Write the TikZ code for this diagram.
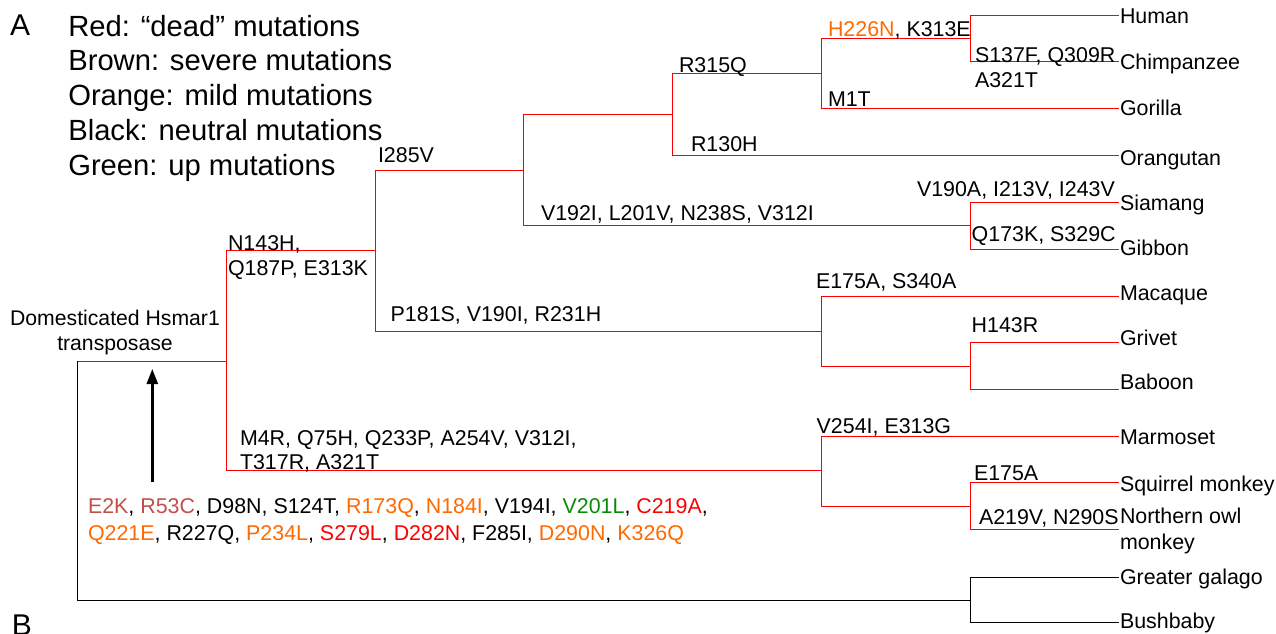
\documentclass[tikz,border=0pt]{standalone}
\usepackage{fontspec}
\setmainfont{Liberation Sans}
\usetikzlibrary{arrows.meta}

\definecolor{branchred}{HTML}{FF0000}
\definecolor{mutred}{HTML}{FF0000}
\definecolor{mutbrown}{HTML}{C0504D}
\definecolor{mutorange}{HTML}{FF6A00}
\definecolor{mutgreen}{HTML}{0A8A0A}

% mutation colour classes
\newcommand\mutDead[1]{\textcolor{mutred}{#1}}
\newcommand\mutSevere[1]{\textcolor{mutbrown}{#1}}
\newcommand\mutMild[1]{\textcolor{mutorange}{#1}}
\newcommand\mutUp[1]{\textcolor{mutgreen}{#1}}

\begin{document}
\begin{tikzpicture}[x=1pt,y=-1pt,
  txt/.style={anchor=base west, inner sep=0pt, outer sep=0pt, font=\fontsize{21.4}{25}\selectfont},
  ctxt/.style={anchor=base, inner sep=0pt, outer sep=0pt, font=\fontsize{21.2}{25}\selectfont},
  legend/.style={anchor=base west, inner sep=0pt, outer sep=0pt, font=\fontsize{29.2}{35}\selectfont},
  panel/.style={anchor=base west, inner sep=0pt, outer sep=0pt, font=\fontsize{30}{36}\selectfont},
  rbranch/.style={draw=branchred, line width=1pt},
  kbranch/.style={draw=black, line width=1pt},
  pointer/.style={draw=black, line width=2.4pt, -{Triangle[length=15pt,width=11pt]}}
]
\useasboundingbox (0,0) rectangle (1276,633);

% panel letters
\node[panel] (panA) at (10,35) {A};
\node[panel] (panB) at (12,635) {B};

% legend
\node[legend] (lg1) at (68.3,36)    {Red: “dead” mutations};
\node[legend] (lg2) at (68.3,70.8)  {Brown: severe mutations};
\node[legend] (lg3) at (68.3,105.5) {Orange: mild mutations};
\node[legend] (lg4) at (68.3,140.2) {Black: neutral mutations};
\node[legend] (lg5) at (68.3,175)   {Green: up mutations};

% internal nodes of the tree (points where the parent branch meets them)
\coordinate (root) at (77.5,361);
\coordinate (nA) at (226.5,361);
\coordinate (nB) at (375,250.5);
\coordinate (nC) at (523,170);
\coordinate (nD) at (672,114.5);
\coordinate (nE) at (821,73);
\coordinate (nF) at (970,38);
\coordinate (nG) at (970,225);
\coordinate (nH) at (821,331);
\coordinate (nI) at (970,366);
\coordinate (nJ) at (821,470);
\coordinate (nK) at (970,506.5);
\coordinate (nL) at (970,600);

% leaf tips
\coordinate (tHuman) at (1119,15);
\coordinate (tChimp) at (1119,61.5);
\coordinate (tGorilla) at (1119,108);
\coordinate (tOrang) at (1119,155);
\coordinate (tSiamang) at (1119,202);
\coordinate (tGibbon) at (1119,249);
\coordinate (tMacaque) at (1119,296);
\coordinate (tGrivet) at (1119,342);
\coordinate (tBaboon) at (1119,389);
\coordinate (tMarmoset) at (1119,436);
\coordinate (tSquirrel) at (1119,482.5);
\coordinate (tOwl) at (1119,529);
\coordinate (tGalago) at (1119,577);
\coordinate (tBushbaby) at (1119,622.5);

% branches
\draw[kbranch] (root) |- (nL);
\draw[rbranch] (root) -- (nA);
\draw[rbranch] (nA) |- (nB);
\draw[rbranch] (nA) |- (nJ);
\draw[rbranch] (nB) |- (nC);
\draw[rbranch] (nB) |- (nH);
\draw[rbranch] (nC) |- (nD);
\draw[rbranch] (nC) |- (nG);
\draw[rbranch] (nD) |- (nE);
\draw[rbranch] (nD) |- (tOrang);
\draw[rbranch] (nE) |- (nF);
\draw[rbranch] (nE) |- (tGorilla);
\draw[rbranch] (nF) |- (tHuman);
\draw[rbranch] (nF) |- (tChimp);
\draw[rbranch] (nG) |- (tSiamang);
\draw[rbranch] (nG) |- (tGibbon);
\draw[rbranch] (nH) |- (tMacaque);
\draw[rbranch] (nH) |- (nI);
\draw[rbranch] (nI) |- (tGrivet);
\draw[rbranch] (nI) |- (tBaboon);
\draw[rbranch] (nJ) |- (tMarmoset);
\draw[rbranch] (nJ) |- (nK);
\draw[rbranch] (nK) |- (tSquirrel);
\draw[rbranch] (nK) |- (tOwl);
\draw[kbranch] (nL) |- (tGalago);
\draw[kbranch] (nL) |- (tBushbaby);

% species
\node[txt] (lHuman) at (1120,23.3) {Human};
\node[txt] (lChimp) at (1120,69) {Chimpanzee};
\node[txt] (lGorilla) at (1120,115) {Gorilla};
\node[txt] (lOrang) at (1120,165) {Orangutan};
\node[txt] (lSiamang) at (1120,210) {Siamang};
\node[txt] (lGibbon) at (1120,255) {Gibbon};
\node[txt] (lMacaque) at (1120,300.7) {Macaque};
\node[txt] (lGrivet) at (1120,345) {Grivet};
\node[txt] (lBaboon) at (1120,389.3) {Baboon};
\node[txt] (lMarmoset) at (1120,444.3) {Marmoset};
\node[txt] (lSquirrel) at (1120,491.7) {Squirrel monkey};
\node[txt] (lOwlA) at (1120,523.3) {Northern owl};
\node[txt] (lOwlB) at (1120,549) {monkey};
\node[txt] (lGalago) at (1120,584) {Greater galago};
\node[txt] (lBushbaby) at (1120,628) {Bushbaby};

% mutations along the branches
\node[txt] (mB) at (378,162.7) {I285V};
\node[txt] (mA1) at (228,250) {N143H,};
\node[txt] (mA2) at (228,275.7) {Q187P, E313K};
\node[txt] (mH) at (390.7,321) {P181S, V190I, R231H};
\node[txt] (mJ1) at (240,445.7) {M4R, Q75H, Q233P, A254V, V312I,};
\node[txt] (mJ2) at (240,469.5) {T317R, A321T};
\node[txt] (mG) at (541,220) {V192I, L201V, N238S, V312I};
\node[txt] (mD) at (679,72.3) {R315Q};
\node[txt] (mOr) at (691,151.7) {R130H};
\node[txt] (mF) at (828,36.7) {\mutMild{H226N}, K313E};
\node[txt] (mGo) at (828,106) {M1T};
\node[txt] (mCh1) at (975,62.3) {S137F, Q309R};
\node[txt] (mCh2) at (975,87.3) {A321T};
\node[txt] (mSi) at (917,196.7) {V190A, I213V, I243V};
\node[txt] (mGi) at (971.7,241.7) {Q173K, S329C};
\node[txt] (mMa) at (816,288.3) {E175A, S340A};
\node[txt] (mI) at (971.7,332) {H143R};
\node[txt] (mMm) at (816.7,433.3) {V254I, E313G};
\node[txt] (mSq) at (974,480) {E175A};
\node[txt] (mOw) at (979,524.3) {A219V, N290S};

% ancestral protein and its substitutions
\node[ctxt] (anc1) at (115,325) {Domesticated Hsmar1};
\node[ctxt] (anc2) at (115,350) {transposase};
\coordinate (arrTail) at (152.3,481.7);
\coordinate (arrTip) at (152.3,369);
\draw[pointer] (arrTail) -- (arrTip);

\node[txt] (sub1) at (88,513.3) {\mutSevere{E2K}, \mutSevere{R53C}, D98N, S124T, \mutMild{R173Q}, \mutMild{N184I}, V194I, \mutUp{V201L}, \mutDead{C219A},};
\node[txt] (sub2) at (88,540) {\mutMild{Q221E}, R227Q, \mutMild{P234L}, \mutDead{S279L}, \mutDead{D282N}, F285I, \mutMild{D290N}, \mutMild{K326Q}};
\end{tikzpicture}
\end{document}
